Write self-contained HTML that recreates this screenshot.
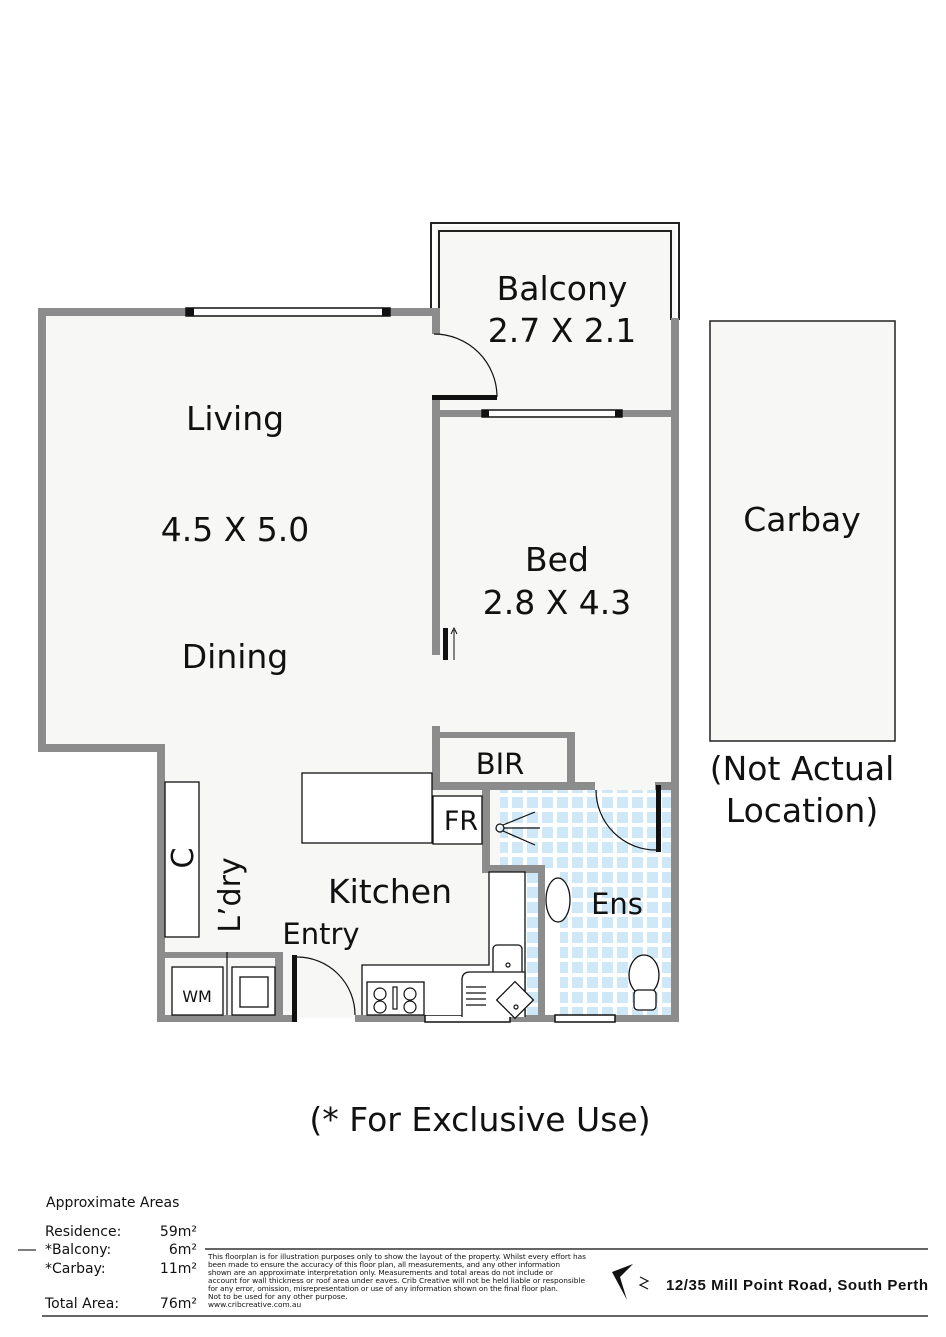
<!DOCTYPE html>
<html><head><meta charset="utf-8"><style>
body{margin:0;background:#fff}
svg{display:block}
text{font-family:"DejaVu Sans","Liberation Sans",sans-serif;fill:#111}
</style></head><body>
<svg width="946" height="1337" viewBox="0 0 946 1337" xmlns="http://www.w3.org/2000/svg">
<defs>
<pattern id="tile" width="15" height="15" patternUnits="userSpaceOnUse">
<rect width="15" height="15" fill="#fff"/>
<rect x="2" y="2" width="11" height="11" fill="#cfe8f7"/>
</pattern>
</defs>
<!-- floor fills -->
<path d="M42 312 H436 V412 H676 V1018 H161 V748 H42 Z" fill="#f7f7f6"/>
<rect x="436" y="226" width="240" height="186" fill="#f7f7f6"/>
<rect x="490" y="790" width="181" height="225" fill="url(#tile)"/>
<rect x="490" y="790" width="10" height="82" fill="#f7f7f6"/>
<rect x="545" y="872" width="15" height="143" fill="#fff"/>
<!-- balcony outline -->
<path d="M431 308 V223 H679 V320" fill="none" stroke="#222" stroke-width="2"/>
<path d="M439 308 V231 H671 V320" fill="none" stroke="#222" stroke-width="2"/>
<!-- gray walls -->
<g fill="#8c8c8c">
<rect x="38" y="308" width="402" height="8"/>
<rect x="38" y="308" width="8" height="444"/>
<rect x="38" y="744" width="127" height="8"/>
<rect x="157" y="744" width="8" height="278"/>
<rect x="157" y="1015" width="135" height="7"/>
<rect x="355" y="1015" width="324" height="7"/>
<rect x="671" y="318" width="8" height="704"/>
<rect x="432" y="308" width="8" height="26"/>
<rect x="432" y="399" width="8" height="256"/>
<rect x="432" y="410" width="247" height="7"/>
<rect x="432" y="726" width="8" height="64"/>
<rect x="432" y="732" width="143" height="6"/>
<rect x="567" y="732" width="8" height="58"/>
<rect x="432" y="782" width="163" height="8"/>
<rect x="655" y="782" width="24" height="8"/>
<rect x="482" y="790" width="8" height="83"/>
<rect x="482" y="865" width="63" height="8"/>
<rect x="538" y="865" width="7" height="157"/>
<rect x="165" y="952" width="118" height="6"/>
<rect x="275" y="952" width="8" height="70"/>
</g>
<!-- windows -->
<g stroke="#111" stroke-width="1.5">
<rect x="186" y="308" width="204" height="8" fill="#fff"/>
<rect x="482" y="410" width="140" height="7" fill="#fff"/>
<rect x="425" y="1015" width="85" height="7" fill="#fff"/>
<rect x="555" y="1015" width="60" height="7" fill="#fff"/>
</g>
<g fill="#111">
<rect x="186" y="308" width="8" height="8"/><rect x="382" y="308" width="8" height="8"/>
<rect x="482" y="410" width="7" height="7"/><rect x="615" y="410" width="7" height="7"/>
</g>
<!-- doors -->
<rect x="432" y="395" width="65" height="5" fill="#111"/>
<path d="M434 334 A63 63 0 0 1 497 397" fill="none" stroke="#111" stroke-width="1.2"/>
<rect x="292" y="955" width="5" height="67" fill="#111"/>
<path d="M297 957 A58 58 0 0 1 355 1015" fill="none" stroke="#111" stroke-width="1.2"/>
<rect x="656" y="785" width="5" height="67" fill="#111"/>
<path d="M596 790 A60 60 0 0 0 656 850" fill="none" stroke="#111" stroke-width="1.2"/>
<rect x="443" y="628" width="5" height="32" fill="#111"/>
<line x1="454" y1="630" x2="454" y2="660" stroke="#111" stroke-width="1"/>
<path d="M451 634 L454 628 L457 634" fill="none" stroke="#111" stroke-width="1"/>
<!-- fixtures -->
<g fill="#fff" stroke="#111" stroke-width="1.3">
<rect x="302" y="773" width="130" height="70"/>
<rect x="433" y="796" width="49" height="48"/>
<rect x="165" y="782" width="34" height="155"/>
<rect x="172" y="967" width="51" height="48"/>
<rect x="232" y="967" width="43" height="48"/>
<rect x="240" y="977" width="28" height="30"/>
<path d="M362 1015 V965 H489 V872 H525 V1015"/>
<rect x="367" y="982" width="57" height="33"/>
<rect x="493" y="945" width="29" height="30" rx="4"/>
<path d="M462 1017 V980 Q462 972 470 972 H525 V1017"/>
<rect x="502" y="987" width="26" height="26" transform="rotate(45 515 1000)"/>
<ellipse cx="558" cy="900" rx="12" ry="22"/>
<ellipse cx="644" cy="975" rx="15" ry="20"/>
<rect x="634" y="990" width="22" height="20" rx="4"/>
</g>
<g fill="none" stroke="#111" stroke-width="1.2">
<circle cx="380" cy="994" r="6"/><circle cx="410" cy="994" r="6"/>
<circle cx="380" cy="1007" r="6"/><circle cx="410" cy="1007" r="6"/>
<rect x="393" y="987" width="4" height="22"/>
<circle cx="508" cy="965" r="2"/><circle cx="516" cy="1007" r="2"/>
<line x1="466" y1="987" x2="486" y2="987"/><line x1="466" y1="993" x2="486" y2="993"/>
<line x1="466" y1="999" x2="486" y2="999"/><line x1="466" y1="1005" x2="486" y2="1005"/>
<circle cx="500" cy="828" r="4"/>
<line x1="504" y1="828" x2="540" y2="828"/>
<line x1="503" y1="825" x2="535" y2="812"/>
<line x1="503" y1="831" x2="535" y2="845"/>
<line x1="227" y1="952" x2="227" y2="1015"/>
</g>
<!-- carbay -->
<rect x="710" y="321" width="185" height="420" fill="#f7f7f6" stroke="#222" stroke-width="1.5"/>
<!-- labels -->
<g font-size="33" text-anchor="middle">
<text x="562" y="300">Balcony</text>
<text x="562" y="342">2.7 X 2.1</text>
<text x="235" y="430">Living</text>
<text x="235" y="541">4.5 X 5.0</text>
<text x="235" y="668">Dining</text>
<text x="557" y="571">Bed</text>
<text x="557" y="614">2.8 X 4.3</text>
<text x="802" y="531">Carbay</text>
<text x="802" y="780">(Not Actual</text>
<text x="802" y="822">Location)</text>
<text x="390" y="903">Kitchen</text>
<text x="480" y="1131">(* For Exclusive Use)</text>
</g>
<g font-size="29">
<text x="321" y="944" text-anchor="middle">Entry</text>
<text x="617" y="914" text-anchor="middle">Ens</text>
<text x="500" y="774" text-anchor="middle">BIR</text>
<text x="461" y="830" text-anchor="middle" font-size="27">FR</text>
<text transform="translate(193,858) rotate(-90)" text-anchor="middle" font-size="30">C</text>
<text transform="translate(240,895) rotate(-90)" text-anchor="middle" font-size="30">L’dry</text>
<text x="197" y="1002" text-anchor="middle" font-size="16">WM</text>
</g>
<!-- footer -->
<g font-size="14" fill="#333">
<text x="46" y="1207">Approximate Areas</text>
<text x="45" y="1236">Residence:</text><text x="197" y="1236" text-anchor="end">59m²</text>
<text x="45" y="1254">*Balcony:</text><text x="197" y="1254" text-anchor="end">6m²</text>
<text x="45" y="1273">*Carbay:</text><text x="197" y="1273" text-anchor="end">11m²</text>
<text x="45" y="1308">Total Area:</text><text x="197" y="1308" text-anchor="end">76m²</text>
</g>
<line x1="18" y1="1250" x2="36" y2="1250" stroke="#333" stroke-width="1.2"/>
<line x1="205" y1="1249" x2="928" y2="1249" stroke="#333" stroke-width="1.5"/>
<line x1="42" y1="1316" x2="928" y2="1316" stroke="#333" stroke-width="1.5"/>
<g font-size="7.4" fill="#444" style="font-family:'Liberation Sans Narrow','Liberation Sans',sans-serif">
<text x="208" y="1259" textLength="378">This floorplan is for illustration purposes only to show the layout of the property. Whilst every effort has</text>
<text x="208" y="1267" textLength="352">been made to ensure the accuracy of this floor plan, all measurements, and any other information</text>
<text x="208" y="1275" textLength="345">shown are an approximate interpretation only. Measurements and total areas do not include or</text>
<text x="208" y="1283" textLength="377">account for wall thickness or roof area under eaves. Crib Creative will not be held liable or responsible</text>
<text x="208" y="1291" textLength="350">for any error, omission, misrepresentation or use of any information shown on the final floor plan.</text>
<text x="208" y="1299">Not to be used for any other purpose.</text>
<text x="208" y="1307">www.cribcreative.com.au</text>
</g>
<path d="M612 1272 L633 1264 L620 1277 L627 1300 Z" fill="#111"/>
<path d="M640 1277 L648 1281 L640 1285 L648 1289" fill="none" stroke="#111" stroke-width="1.2"/>
<text x="928" y="1290" text-anchor="end" font-size="15" font-weight="bold" fill="#111" style="font-family:'Liberation Sans',sans-serif" textLength="262">12/35 Mill Point Road, South Perth</text>
</svg>
</body></html>
